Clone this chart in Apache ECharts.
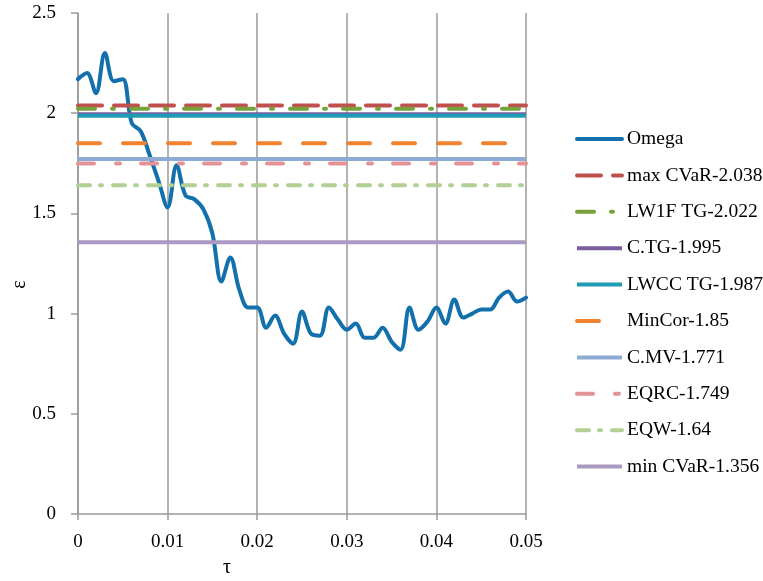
<!DOCTYPE html>
<html>
<head>
<meta charset="utf-8">
<script src="https://cdn.jsdelivr.net/npm/echarts@6/dist/echarts.min.js"></script>
<style>
  html, body { margin: 0; padding: 0; background: #ffffff; }
  #chart { width: 763px; height: 581px; }
</style>
</head>
<body>
<div id="chart"></div>
<script>
// Threshold values τ along the horizontal axis
const tau = [
  0.000, 0.001, 0.002, 0.003, 0.004, 0.005, 0.006, 0.007, 0.008, 0.009,
  0.010, 0.011, 0.012, 0.013, 0.014, 0.015, 0.016, 0.017, 0.018, 0.019,
  0.020, 0.021, 0.022, 0.023, 0.024, 0.025, 0.026, 0.027, 0.028, 0.029,
  0.030, 0.031, 0.032, 0.033, 0.034, 0.035, 0.036, 0.037, 0.038, 0.039,
  0.040, 0.041, 0.042, 0.043, 0.044, 0.045, 0.046, 0.047, 0.048, 0.049,
  0.050
];

// Omega portfolio ε for each τ
const omega = [
  2.17, 2.20, 2.10, 2.30, 2.16, 2.17, 1.95, 1.91, 1.79, 1.66,
  1.53, 1.74, 1.59, 1.57, 1.52, 1.40, 1.16, 1.28, 1.12, 1.03,
  1.03, 0.93, 0.99, 0.90, 0.85, 1.01, 0.90, 0.89, 1.03, 0.97,
  0.92, 0.95, 0.88, 0.88, 0.93, 0.86, 0.82, 1.03, 0.92, 0.96,
  1.03, 0.95, 1.07, 0.98, 1.00, 1.02, 1.02, 1.08, 1.11, 1.06,
  1.08
];

// Benchmark strategies (constant ε)
const benchNames  = ['max CVaR-2.038', 'LW1F TG-2.022', 'C.TG-1.995', 'LWCC TG-1.987', 'MinCor-1.85',
                     'C.MV-1.771', 'EQRC-1.749', 'EQW-1.64', 'min CVaR-1.356'];
const benchValues = [2.038, 2.022, 1.995, 1.987, 1.85, 1.771, 1.749, 1.64, 1.356];
const benchColors = ['#C0504D', '#77A23B', '#7B5E9F', '#1E9CB3', '#F0832F',
                     '#8EABD3', '#E39395', '#B3D094', '#AC99C1'];
const benchDashes = [[24, 12], [17, 17, 2, 17], 'solid', 'solid', [22, 23],
                     'solid', [16, 22, 4, 21], [12, 10, 2, 11], 'solid'];

// Axis ticks
const xTicks = { min: 0, max: 0.05, step: 0.01 };
const yTicks = { min: 0, max: 2.5, step: 0.5 };

const serif = 'Liberation Serif, Times New Roman, serif';
const gridGrey = '#9a9a9a';

const series = [{
  name: 'Omega',
  type: 'line',
  data: tau.map((t, i) => [t, omega[i]]),
  smooth: 0.35,
  symbol: 'none',
  showSymbol: false,
  lineStyle: { color: '#1270AD', width: 4, cap: 'round', join: 'round' },
  itemStyle: { color: '#1270AD' },
  z: 2
}];

benchNames.forEach((name, i) => {
  series.push({
    name: name,
    type: 'line',
    data: [[xTicks.min, benchValues[i]], [xTicks.max, benchValues[i]]],
    symbol: 'none',
    showSymbol: false,
    lineStyle: { color: benchColors[i], width: 4, type: benchDashes[i], cap: benchDashes[i] === 'solid' ? 'butt' : 'round' },
    itemStyle: { color: benchColors[i] },
    z: 3
  });
});

const chart = echarts.init(document.getElementById('chart'), null, { renderer: 'canvas' });
chart.setOption({
  animation: false,
  backgroundColor: '#ffffff',
  textStyle: { fontFamily: serif, color: '#000' },
  grid: { left: 78, right: 237, top: 13, bottom: 67, containLabel: false, outerBoundsMode: 'none' },
  legend: {
    orient: 'vertical',
    left: 575,
    top: 129,
    padding: 0,
    itemWidth: 45,
    itemHeight: 20,
    itemGap: 16.4,
    itemStyle: { opacity: 0 },
    lineStyle: { width: 4 },
    textStyle: { fontFamily: serif, fontSize: 19.5, color: '#000', lineHeight: 20 },
    data: ['Omega'].concat(benchNames)
  },
  xAxis: {
    type: 'value',
    min: xTicks.min,
    max: xTicks.max,
    interval: xTicks.step,
    name: 'τ',
    nameLocation: 'middle',
    nameGap: 44,
    nameMoveOverlap: false,
    nameTextStyle: { fontFamily: serif, fontSize: 20, color: '#000', padding: [0, 150, 0, 0] },
    axisLine: { show: true, onZero: false, lineStyle: { color: gridGrey, width: 1.5 } },
    axisTick: { show: true, length: 6, lineStyle: { color: gridGrey, width: 1.5 } },
    axisLabel: {
      fontFamily: serif, fontSize: 19, color: '#000', margin: 19,
      formatter: v => String(+v.toFixed(2))
    },
    splitLine: { show: true, lineStyle: { color: gridGrey, width: 1.5 } }
  },
  yAxis: {
    type: 'value',
    min: yTicks.min,
    max: yTicks.max,
    interval: yTicks.step,
    name: 'ε',
    nameLocation: 'middle',
    nameGap: 48,
    nameMoveOverlap: false,
    nameTextStyle: { fontFamily: serif, fontSize: 20, color: '#000', padding: [0, 42, 0, 0] },
    axisLine: { show: true, lineStyle: { color: gridGrey, width: 1.5 } },
    axisTick: { show: true, length: 7, lineStyle: { color: gridGrey, width: 1.5 } },
    axisLabel: {
      fontFamily: serif, fontSize: 19, color: '#000', margin: 22,
      formatter: v => String(+v.toFixed(1))
    },
    splitLine: { show: false }
  },
  series: series
});
</script>
</body>
</html>
